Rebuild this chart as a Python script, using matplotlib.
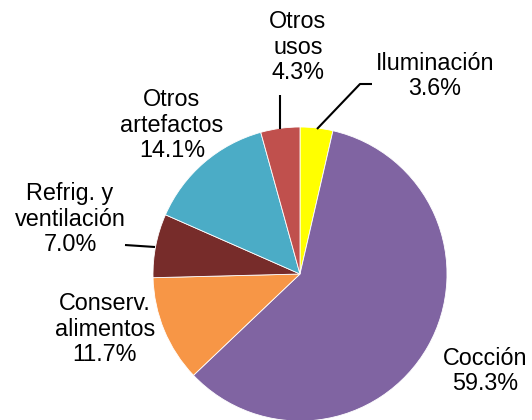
import matplotlib
matplotlib.use("Agg")
import matplotlib.pyplot as plt

categories = ["Iluminación", "Cocción", "Conserv.\nalimentos", "Refrig. y\nventilación",
              "Otros\nartefactos", "Otros\nusos"]
values = [3.6, 59.3, 11.7, 7.0, 14.1, 4.3]
colors = ["#FFFF00", "#8064A2", "#F79646", "#772C2A", "#4BACC6", "#C0504D"]

W, H = 532, 420
CX, CY, R = 300, 274, 147

def px(x, y):
    return (x - CX) / R, (CY - y) / R

# label centres in pixels (layout)
label_pos = [(435, 76), (485, 371), (105, 329), (70, 219), (172, 125), (298, 47)]

fig = plt.figure(figsize=(W / 100, H / 100), dpi=100)
ax = fig.add_axes([0, 0, 1, 1])
ax.pie(values, colors=colors, startangle=90, counterclock=False, radius=1,
       wedgeprops=dict(linewidth=0.6, edgecolor="white"))
ax.set_xlim(-CX / R, (W - CX) / R)
ax.set_ylim(-(H - CY) / R, CY / R)
ax.set_aspect("equal")
ax.axis("off")

for cat, v, (lx, ly) in zip(categories, values, label_pos):
    x, y = px(lx, ly)
    ax.text(x, y, f"{cat}\n{v:.1f}%", ha="center", va="center",
            fontsize=16.8, family="Liberation Sans", linespacing=1.15, color="black")

# leader lines
leaders = [
    [(280, 95), (280, 129)],
    [(317, 129), (360, 84), (372, 84)],
    [(125, 245), (155, 247)],
]
for pts in leaders:
    xs, ys = zip(*[px(a, b) for a, b in pts])
    ax.plot(xs, ys, color="black", lw=1.5, solid_capstyle="butt")

fig.savefig("out.png", dpi=100)
